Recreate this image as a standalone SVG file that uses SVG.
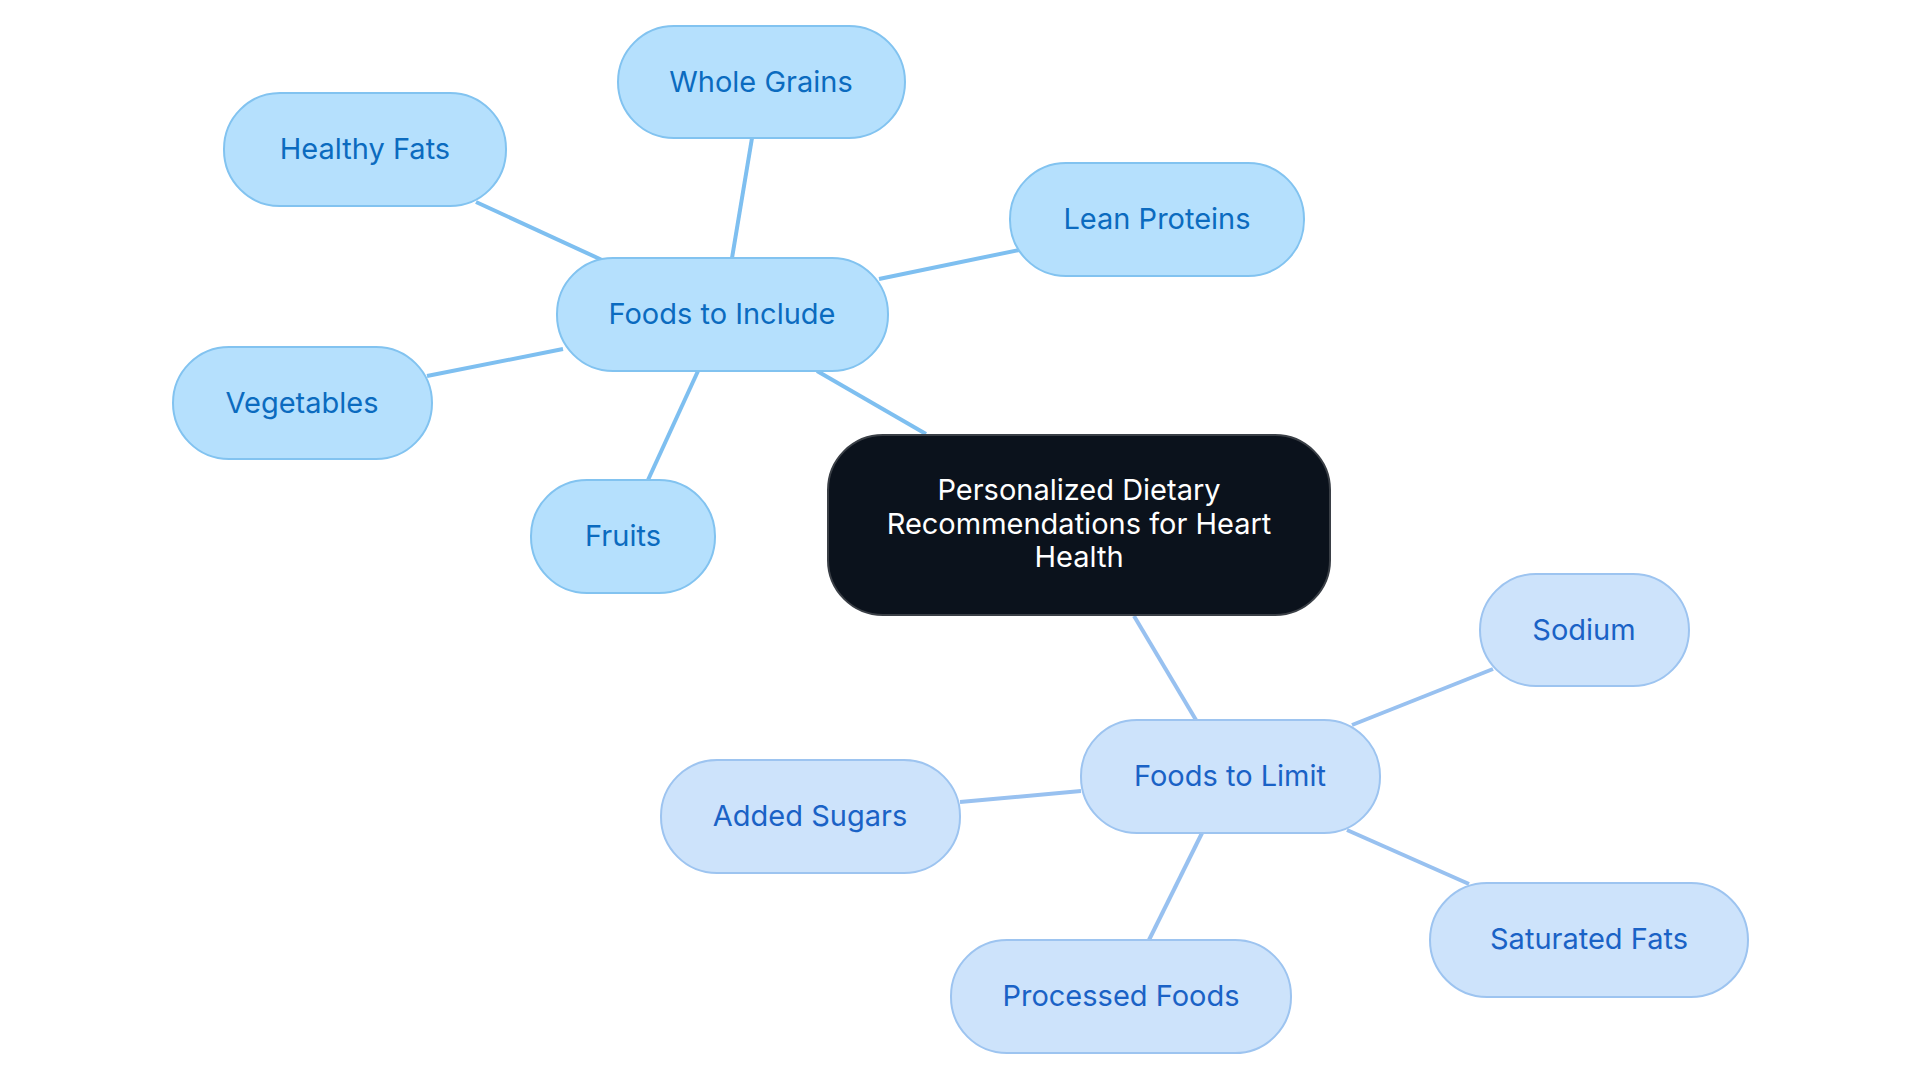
<svg xmlns="http://www.w3.org/2000/svg" width="1920" height="1083" viewBox="0 0 1920 1083">
<style>
.inc rect{fill:#b5e0fd;stroke:#82c3f0;stroke-width:2}
.lim rect{fill:#cde3fb;stroke:#9dc4f0;stroke-width:2}
text{font-family:Inter,"Noto Sans",sans-serif;font-size:29px;text-anchor:middle;dominant-baseline:central}
.inc text{fill:#0b6bbf}
.lim text{fill:#1a62c6}
.ci{stroke:#7ebff0;stroke-width:4;fill:none}
.cl{stroke:#98c1f0;stroke-width:4;fill:none}
</style>
<rect width="1920" height="1083" fill="#fff"/>
<g id="connectors">
<line class="ci" x1="817" y1="371" x2="926" y2="434"/>
<line class="ci" x1="732" y1="258" x2="752" y2="138"/>
<line class="ci" x1="602" y1="260" x2="476" y2="202"/>
<line class="ci" x1="879" y1="279" x2="1019" y2="250"/>
<line class="ci" x1="563" y1="349" x2="427" y2="376"/>
<line class="ci" x1="698" y1="371" x2="648" y2="480"/>
<line class="cl" x1="1134" y1="616" x2="1196" y2="720"/>
<line class="cl" x1="1352" y1="725" x2="1493" y2="669"/>
<line class="cl" x1="1081" y1="791" x2="960" y2="802"/>
<line class="cl" x1="1347" y1="830" x2="1469" y2="884"/>
<line class="cl" x1="1202" y1="833" x2="1149" y2="940"/>
</g>
<g id="center"><rect x="828" y="435" width="502" height="180" rx="55" fill="#0b121c" stroke="#3a3f46" stroke-width="2"/>
<text x="1079" y="489" fill="#fff">Personalized Dietary</text>
<text x="1079" y="523" fill="#fff">Recommendations for Heart</text>
<text x="1079" y="556" fill="#fff">Health</text></g>
<g id="include" class="inc"><rect x="557" y="258" width="331" height="113" rx="56"/><text x="722" y="313">Foods to Include</text></g>
<g id="wholegrains" class="inc"><rect x="618" y="26" width="287" height="112" rx="56"/><text x="761" y="81">Whole Grains</text></g>
<g id="healthyfats" class="inc"><rect x="224" y="93" width="282" height="113" rx="56"/><text x="365" y="148">Healthy Fats</text></g>
<g id="leanproteins" class="inc"><rect x="1010" y="163" width="294" height="113" rx="56"/><text x="1157" y="218">Lean Proteins</text></g>
<g id="vegetables" class="inc"><rect x="173" y="347" width="259" height="112" rx="56"/><text x="302" y="402">Vegetables</text></g>
<g id="fruits" class="inc"><rect x="531" y="480" width="184" height="113" rx="56"/><text x="623" y="535">Fruits</text></g>
<g id="limit" class="lim"><rect x="1081" y="720" width="299" height="113" rx="56"/><text x="1230" y="775">Foods to Limit</text></g>
<g id="sodium" class="lim"><rect x="1480" y="574" width="209" height="112" rx="56"/><text x="1584" y="629">Sodium</text></g>
<g id="addedsugars" class="lim"><rect x="661" y="760" width="299" height="113" rx="56"/><text x="810" y="815">Added Sugars</text></g>
<g id="saturatedfats" class="lim"><rect x="1430" y="883" width="318" height="114" rx="57"/><text x="1589" y="938">Saturated Fats</text></g>
<g id="processedfoods" class="lim"><rect x="951" y="940" width="340" height="113" rx="56"/><text x="1121" y="995">Processed Foods</text></g>
</svg>
